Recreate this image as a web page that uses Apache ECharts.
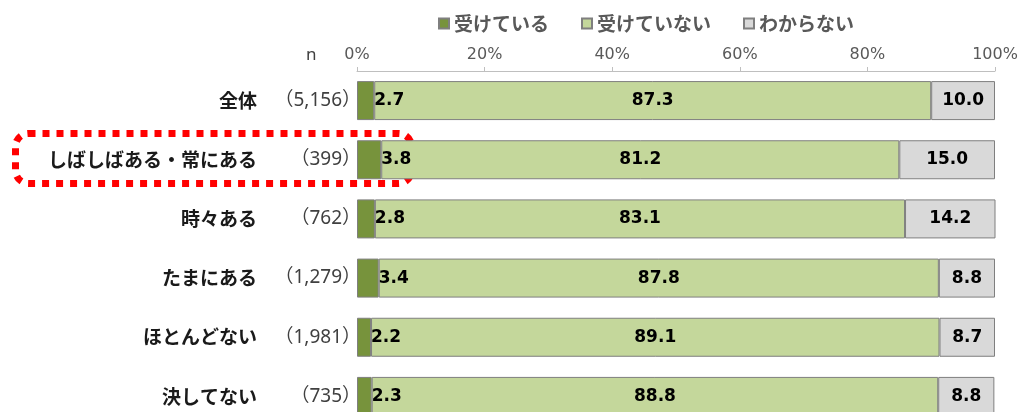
<!DOCTYPE html>
<html>
<head>
<meta charset="utf-8">
<script src="https://cdn.jsdelivr.net/npm/echarts@6/dist/echarts.min.js"></script>
<style>
  html, body { margin: 0; padding: 0; background: #fff; overflow: hidden; }
  /* taller than the window: the last row is cut off at the bottom edge in the reference */
  #chart { width: 1024px; height: 440px; }
</style>
</head>
<body>
<div id="chart"></div>
<script>
// categories and sample sizes
const categories = ['全体', 'しばしばある・常にある', '時々ある', 'たまにある', 'ほとんどない', '決してない'];
const counts = ['5,156', '399', '762', '1,279', '1,981', '735'];

// series values (%)
const received = [2.7, 3.8, 2.8, 3.4, 2.2, 2.3];
const notReceived = [87.3, 81.2, 83.1, 87.8, 89.1, 88.8];
const unknown = [10.0, 15.0, 14.2, 8.8, 8.7, 8.8];

const seriesNames = ['受けている', '受けていない', 'わからない'];

const jpFont = '"Noto Sans CJK JP", "Noto Sans", sans-serif';
const nFont = '"Noto Sans", "Noto Sans CJK JP", sans-serif';
const numFont = '"DejaVu Sans", "Liberation Sans", sans-serif';

const chart = echarts.init(document.getElementById('chart'));

const borderStyle = { borderColor: '#7f7f7f', borderWidth: 1 };
const valueLabel = {
    show: true,
    color: '#000',
    fontFamily: numFont,
    fontWeight: 'bold',
    fontSize: 17,
    formatter: (p) => p.value.toFixed(1)
};

const option = {
    animation: false,
    legend: {
        data: seriesNames,
        top: 9,
        left: 433,
        icon: 'rect',
        itemWidth: 10,
        itemHeight: 10,
        itemGap: 32,
        textStyle: {
            fontFamily: jpFont,
            fontSize: 19,
            fontWeight: 'bold',
            color: '#595959'
        }
    },
    grid: {
        left: 357,
        right: 29,
        top: 71,
        height: 355
    },
    xAxis: {
        type: 'value',
        position: 'top',
        min: 0,
        max: 100,
        interval: 20,
        axisLine: { show: true, lineStyle: { color: '#bfbfbf' } },
        axisTick: { show: true, length: 4, lineStyle: { color: '#bfbfbf' } },
        splitLine: { show: false },
        axisLabel: {
            formatter: '{value}%',
            fontFamily: numFont,
            fontSize: 16,
            color: '#595959',
            margin: 8
        }
    },
    yAxis: {
        type: 'category',
        inverse: true,
        data: categories,
        axisLine: { show: false },
        axisTick: { show: false },
        axisLabel: {
            margin: -4,
            formatter: (value, idx) => `{name|${value}}{n|（${counts[idx]}）}`,
            rich: {
                name: {
                    fontFamily: jpFont,
                    fontSize: 19,
                    fontWeight: 'bold',
                    color: '#1a1a1a'
                },
                n: {
                    fontFamily: nFont,
                    fontSize: 19,
                    color: '#404040',
                    width: 104,
                    align: 'right'
                }
            }
        }
    },
    graphic: [
        {
            type: 'rect',
            shape: { x: 15.5, y: 133.5, width: 396, height: 50, r: 13 },
            style: { fill: 'none', stroke: '#ff0000', lineWidth: 7, lineDash: [7, 7] },
            z: 0
        },
        {
            type: 'text',
            left: 306,
            top: 47,
            style: { text: 'n', fontFamily: nFont, fontSize: 17, fill: '#404040' }
        }
    ],
    series: [
        {
            name: seriesNames[0],
            type: 'bar',
            stack: 'total',
            barWidth: 39,
            z: 3,
            data: received,
            itemStyle: Object.assign({ color: '#77933c' }, borderStyle),
            label: Object.assign({}, valueLabel, { position: 'right', distance: 0 })
        },
        {
            name: seriesNames[1],
            type: 'bar',
            stack: 'total',
            data: notReceived,
            itemStyle: Object.assign({ color: '#c4d79b' }, borderStyle),
            label: Object.assign({}, valueLabel, { position: 'inside' })
        },
        {
            name: seriesNames[2],
            type: 'bar',
            stack: 'total',
            data: unknown,
            itemStyle: Object.assign({ color: '#d9d9d9' }, borderStyle),
            label: Object.assign({}, valueLabel, { position: 'inside' })
        }
    ]
};

chart.setOption(option);
</script>
</body>
</html>
